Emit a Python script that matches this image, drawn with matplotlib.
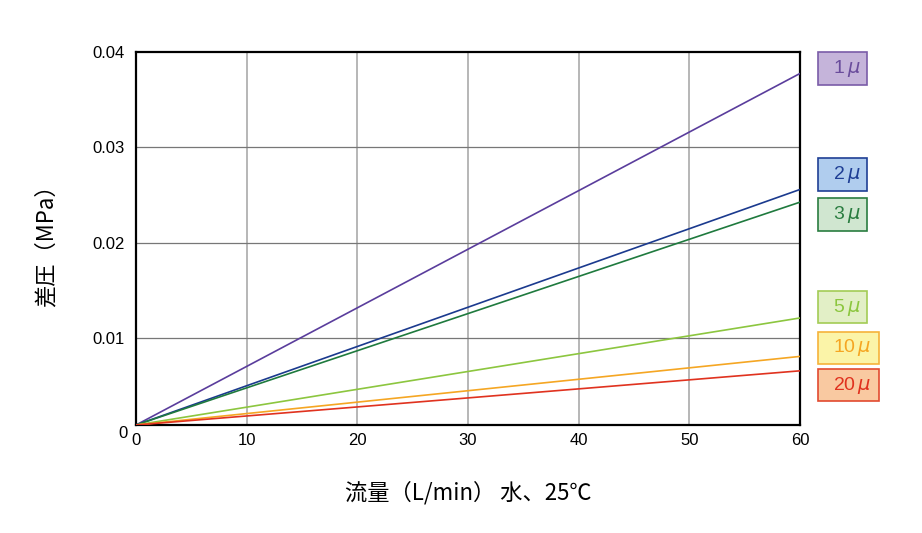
import matplotlib
matplotlib.use("Agg")
import matplotlib.pyplot as plt
from matplotlib.patches import Rectangle

# flow rate (L/min) at the two ends of each line
flow = [0, 60]

grades = ["1", "2", "3", "5", "10", "20"]
dp_1 = [0.0009, 0.03775]
dp_2 = [0.0009, 0.02559]
dp_3 = [0.0009, 0.02426]
dp_5 = [0.0009, 0.01212]
dp_10 = [0.0009, 0.00809]
dp_20 = [0.0009, 0.00658]
series = [dp_1, dp_2, dp_3, dp_5, dp_10, dp_20]

x_ticks = [0, 10, 20, 30, 40, 50, 60]
y_ticks = [0.01, 0.02, 0.03, 0.04]

line_colors = ["#5a3d9c", "#1b3a8e", "#1f7a3e", "#8cc63f", "#f5a623", "#e0321f"]
box_fills = ["#c5b4da", "#b0cdee", "#d0e6d0", "#e2efc6", "#fbf4a8", "#f9c9a1"]
box_edges = ["#7a5ca8", "#1f3f95", "#2a7d40", "#a3cc55", "#f6b33a", "#e24a30"]
text_colors = ["#6a4c9c", "#1f3f95", "#2a7d40", "#8cc63f", "#f5a623", "#e0321f"]

W, H = 922, 533
fig = plt.figure(figsize=(W / 100, H / 100), dpi=100)
ax = fig.add_axes([136 / W, 1 - 425 / H, 664 / W, 373 / H])

for ys, c in zip(series, line_colors):
    ax.plot(flow, ys, color=c, linewidth=1.2, solid_capstyle="butt", zorder=3)

ax.set_xlim(0, 60)
ax.set_ylim(0.0009, 0.04)
ax.set_xticks(x_ticks)
ax.set_yticks(y_ticks)
ax.set_xticklabels([str(v) for v in x_ticks])
ax.set_yticklabels([f"{v:.2f}" for v in y_ticks])
ax.tick_params(length=0, labelsize=12, pad=6)
for lab in ax.get_xticklabels() + ax.get_yticklabels():
    lab.set_family("Liberation Sans")
ax.tick_params(axis="y", pad=8)
ax.text(-0.013, 0.0, "0", transform=ax.get_yaxis_transform(), ha="right",
        va="center", fontsize=12, family="Liberation Sans", clip_on=False)

for x in x_ticks[1:-1]:
    ax.axvline(x, color="#aaaaaa", linewidth=1.2, zorder=1)
for y in y_ticks[:-1]:
    ax.axhline(y, color="#777777", linewidth=0.9, zorder=1)

for s in ax.spines.values():
    s.set_linewidth(1.6)
    s.set_color("black")

cjk = ["Noto Sans CJK JP", "DejaVu Sans"]
fig.text(46 / W, 1 - 240 / H, "差圧（MPa）", rotation=90, ha="center", va="center",
         fontsize=16, family=cjk)
fig.text(468 / W, 1 - 493 / H, "流量（L/min） 水、25℃", ha="center", va="center",
         fontsize=16, family=cjk)

# label boxes at the right: (top, bottom, right) in pixels
box_top = [52, 158, 198, 291, 332, 369]
box_bot = [85, 191, 231, 323, 364, 401]
box_right = [867, 867, 867, 867, 879, 879]
for g, t, b, r, fc, ec, tc in zip(grades, box_top, box_bot, box_right,
                                  box_fills, box_edges, text_colors):
    x0 = 818
    fig.add_artist(Rectangle((x0 / W, 1 - b / H), (r - x0) / W, (b - t) / H,
                             transform=fig.transFigure, facecolor=fc,
                             edgecolor=ec, linewidth=1.2))
    fig.text((x0 + r) / 2 / W + 4 / W, 1 - (t + b) / 2 / H, g + r"$\,\mu$",
             ha="center", va="center", fontsize=14, color=tc,
             family="Liberation Sans")

fig.savefig("out.png", dpi=100)
